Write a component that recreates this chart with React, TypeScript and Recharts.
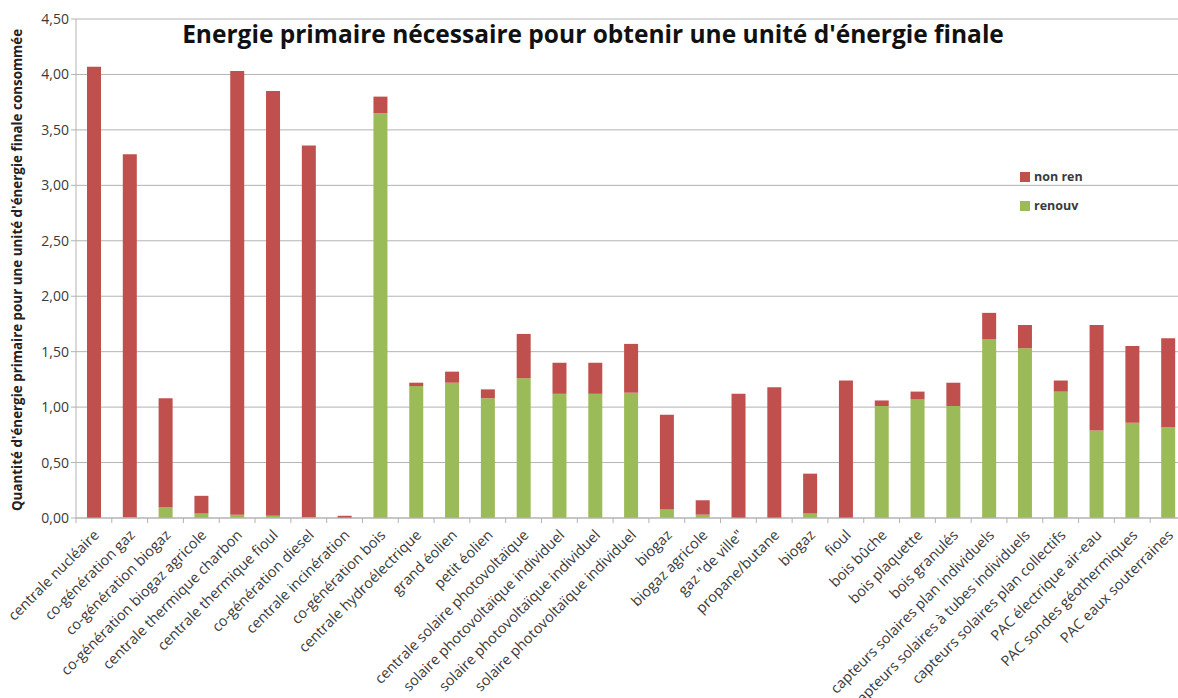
import React from "react";
import { BarChart, Bar, XAxis, YAxis, CartesianGrid } from "recharts";

const categories = [
  "centrale nucléaire",
  "co-génération gaz",
  "co-génération biogaz",
  "co-génération biogaz agricole",
  "centrale thermique charbon",
  "centrale thermique fioul",
  "co-génération diesel",
  "centrale incinération",
  "co-génération bois",
  "centrale hydroélectrique",
  "grand éolien",
  "petit éolien",
  "centrale solaire photovoltaïque",
  "solaire photovoltaïque individuel",
  "solaire photovoltaïque individuel",
  "solaire photovoltaïque individuel",
  "biogaz",
  "biogaz agricole",
  'gaz "de ville"',
  "propane/butane",
  "biogaz",
  "fioul",
  "bois bûche",
  "bois plaquette",
  "bois granulés",
  "capteurs solaires plan individuels",
  "capteurs solaires à tubes individuels",
  "capteurs solaires plan collectifs",
  "PAC électrique air-eau",
  "PAC sondes géothermiques",
  "PAC eaux souterraines",
];

const renouv = [
  0, 0.01, 0.1, 0.04, 0.03, 0.02, 0.01, 0, 3.65, 1.19, 1.22, 1.08, 1.26, 1.12,
  1.12, 1.13, 0.08, 0.03, 0, 0, 0.04, 0, 1.01, 1.07, 1.01, 1.61, 1.53, 1.14,
  0.79, 0.86, 0.82,
];

const nonRen = [
  4.07, 3.27, 0.98, 0.16, 4.0, 3.83, 3.35, 0.02, 0.15, 0.03, 0.1, 0.08, 0.4,
  0.28, 0.28, 0.44, 0.85, 0.13, 1.12, 1.18, 0.36, 1.24, 0.05, 0.07, 0.21, 0.24,
  0.21, 0.1, 0.95, 0.69, 0.8,
];

const yTicks = [0, 0.5, 1, 1.5, 2, 2.5, 3, 3.5, 4, 4.5];

const data = categories.map((name, i) => ({
  name,
  renouv: renouv[i],
  nonRen: nonRen[i],
}));

const RED = "#c0504d";
const GREEN = "#9bbb59";
const GRID = "#b3b3b3";
const TEXT = "#3a3a3a";
const FONT = "'Open Sans', sans-serif";

const CHART_W = 1190;
const CHART_H = 698;
const LEFT = 76;
const RIGHT = 4;
const BAND = (CHART_W - LEFT - RIGHT) / categories.length;

function XTick(props: any) {
  const { x, y, payload } = props;
  return (
    <g>
      <line x1={x - BAND / 2} y1={518} x2={x - BAND / 2} y2={523} stroke={GRID} />
      <text
        x={x + 6}
        y={y + 10}
        transform={`rotate(-45 ${x + 6} ${y + 10})`}
        textAnchor="end"
        fontSize={14.5}
        fill={TEXT}
        fontFamily={FONT}
      >
        {payload.value}
      </text>
    </g>
  );
}

export default function App() {
  return (
    <div
      style={{
        position: "absolute",
        left: 0,
        top: 0,
        width: 1178,
        height: 698,
        overflow: "hidden",
        background: "#fff",
        fontFamily: FONT,
      }}
    >
      <BarChart
        width={CHART_W}
        height={CHART_H}
        data={data}
        margin={{ top: 19, right: RIGHT, left: 0, bottom: 0 }}
        barCategoryGap={0}
      >
        <CartesianGrid vertical={false} stroke={GRID} />
        <XAxis
          dataKey="name"
          interval={0}
          height={180}
          tickLine={false}
          axisLine={{ stroke: GRID }}
          tick={<XTick />}
        />
        <YAxis
          width={LEFT}
          domain={[0, 4.5]}
          ticks={yTicks}
          tickFormatter={(v: number) => v.toFixed(2).replace(".", ",")}
          tick={{ fill: TEXT, fontSize: 14, fontFamily: FONT }}
          tickLine={{ stroke: GRID }}
          tickSize={5}
          axisLine={{ stroke: GRID }}
        />
        <Bar dataKey="renouv" stackId="a" fill={GREEN} barSize={14} isAnimationActive={false} />
        <Bar dataKey="nonRen" stackId="a" fill={RED} barSize={14} isAnimationActive={false} />
      </BarChart>

      <div
        style={{
          position: "absolute",
          left: 0,
          width: 1186,
          top: 17,
          textAlign: "center",
          fontWeight: 700,
          fontSize: 24.5,
          color: "#111",
        }}
      >
        Energie primaire nécessaire pour obtenir une unité d'énergie finale
      </div>

      <div
        style={{
          position: "absolute",
          left: 17,
          top: 270,
          transform: "translate(-50%, -50%) rotate(-90deg)",
          whiteSpace: "nowrap",
          fontWeight: 700,
          fontSize: 13.4,
          color: "#222",
        }}
      >
        Quantité d'énergie primaire pour une unité d'énergie finale consommée
      </div>

      <div style={{ position: "absolute", left: 1020, top: 162, fontSize: 12.5, fontWeight: 700, color: TEXT }}>
        {[
          { label: "non ren", color: RED },
          { label: "renouv", color: GREEN },
        ].map((item) => (
          <div key={item.label} style={{ display: "flex", alignItems: "center", height: 29 }}>
            <span style={{ width: 10, height: 10, background: item.color, marginRight: 4 }} />
            {item.label}
          </div>
        ))}
      </div>
    </div>
  );
}
